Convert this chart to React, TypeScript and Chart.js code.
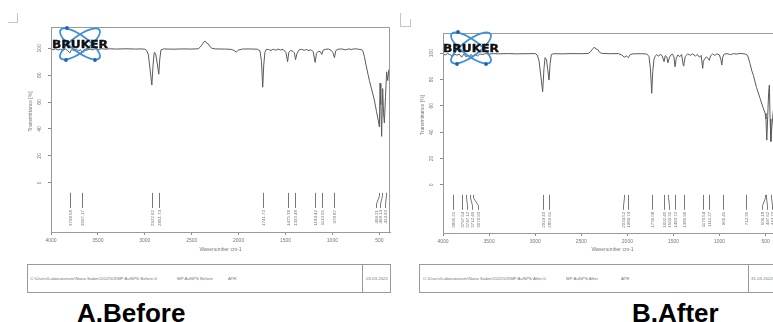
import React, { useEffect, useRef } from "react";
import { Chart, registerables } from "chart.js";
Chart.register(...registerables);

// ---------- data ----------
const xTicks = [4000, 3500, 3000, 2500, 2000, 1500, 1000, 500];
const yTicks = [0, 20, 40, 60, 80, 100];

const beforeWn = [4000, 3975, 3950, 3925, 3900, 3870, 3845, 3820, 3798, 3780, 3755, 3730, 3705, 3685, 3667, 3645, 3620, 3590, 3560, 3530, 3500, 3460, 3420, 3380, 3300, 3200, 3100, 3040, 3000, 2980, 2962, 2945, 2925, 2912, 2900, 2885, 2868, 2851, 2840, 2828, 2800, 2700, 2600, 2500, 2430, 2410, 2390, 2370, 2355, 2340, 2325, 2305, 2285, 2250, 2150, 2080, 2050, 2025, 2000, 1960, 1900, 1800, 1772, 1756, 1743, 1732, 1720, 1705, 1680, 1655, 1630, 1605, 1580, 1555, 1525, 1495, 1478, 1465, 1445, 1420, 1405, 1393, 1378, 1355, 1330, 1300, 1275, 1250, 1228, 1205, 1184, 1170, 1150, 1130, 1113, 1098, 1070, 1040, 1012, 995, 978, 964, 940, 900, 860, 830, 800, 760, 725, 695, 677, 660, 640, 620, 606, 580, 553, 530, 510, 499, 492, 484, 475, 464, 455, 446, 434, 422, 410, 398, 386];
const beforeT = [99.4, 98.9, 99.6, 98.6, 99.3, 98.4, 99.5, 98.0, 96.6, 99.1, 98.3, 99.4, 98.1, 98.9, 96.9, 99.2, 98.5, 99.4, 98.8, 99.6, 99.0, 99.7, 99.3, 99.6, 99.4, 99.6, 99.4, 99.5, 99.3, 98.4, 95.0, 85.0, 72.6, 87.5, 96.8, 96.2, 89.0, 80.7, 92.0, 98.8, 99.5, 99.3, 99.5, 99.4, 99.6, 100.8, 102.6, 104.8, 105.2, 103.8, 103.4, 101.2, 100.0, 99.5, 99.4, 99.2, 98.4, 97.2, 98.7, 99.4, 99.5, 99.3, 98.0, 90.0, 71.0, 87.5, 96.8, 99.2, 99.0, 98.4, 99.3, 98.5, 99.4, 98.7, 99.2, 96.8, 90.0, 96.8, 98.4, 97.6, 96.5, 91.5, 96.0, 98.8, 99.2, 98.5, 99.1, 98.2, 99.0, 97.4, 89.5, 96.2, 97.8, 97.6, 95.4, 98.6, 99.3, 99.4, 98.4, 96.8, 93.0, 98.2, 99.3, 99.5, 98.8, 99.5, 99.1, 99.6, 99.3, 99.0, 98.2, 94.0, 87.0, 80.5, 76.0, 69.0, 61.5, 53.0, 46.0, 41.5, 74.0, 58.0, 34.5, 70.0, 52.0, 44.5, 64.0, 82.5, 76.0, 84.0, 80.0];

const afterWn = [4000, 3975, 3950, 3925, 3895, 3875, 3850, 3825, 3797, 3775, 3747, 3730, 3712, 3695, 3677, 3655, 3624, 3600, 3570, 3540, 3500, 3450, 3400, 3300, 3200, 3100, 3000, 2978, 2958, 2938, 2919, 2905, 2893, 2878, 2864, 2850, 2838, 2825, 2800, 2700, 2600, 2500, 2425, 2400, 2378, 2358, 2342, 2322, 2302, 2280, 2200, 2100, 2060, 2034, 2012, 1990, 1970, 1940, 1850, 1790, 1766, 1750, 1736, 1725, 1712, 1700, 1680, 1660, 1645, 1625, 1602, 1590, 1572, 1560, 1545, 1530, 1510, 1495, 1483, 1470, 1452, 1432, 1412, 1393, 1386, 1372, 1345, 1315, 1292, 1262, 1242, 1218, 1200, 1183, 1176, 1162, 1142, 1125, 1111, 1098, 1075, 1052, 1030, 1002, 986, 976, 965, 950, 920, 880, 850, 820, 780, 745, 725, 705, 690, 670, 650, 633, 600, 561, 530, 506, 497, 488, 478, 468, 460, 452, 444, 432, 419, 405, 390, 370, 350, 330];
const afterT = [99.2, 98.6, 99.5, 98.9, 97.2, 99.1, 98.4, 99.2, 96.8, 99.3, 97.0, 98.4, 97.4, 99.0, 97.3, 99.1, 97.8, 99.3, 98.9, 99.5, 99.2, 99.6, 99.4, 99.6, 99.4, 99.5, 99.6, 98.5, 94.0, 82.0, 70.7, 88.0, 96.5, 95.2, 87.5, 79.5, 92.0, 98.9, 99.5, 99.4, 99.6, 99.5, 99.7, 101.0, 103.0, 104.5, 103.0, 102.8, 100.6, 99.8, 99.5, 99.6, 98.6, 96.8, 97.8, 96.5, 98.8, 99.4, 99.5, 99.3, 97.5, 88.0, 69.5, 86.0, 95.0, 97.5, 98.8, 97.6, 99.0, 98.2, 93.5, 98.0, 97.0, 92.6, 96.4, 98.5, 99.2, 97.0, 89.6, 96.0, 98.6, 97.2, 98.9, 90.4, 92.0, 97.5, 99.3, 98.3, 99.5, 97.6, 99.0, 96.8, 98.2, 88.4, 93.8, 95.5, 97.2, 95.8, 94.5, 98.0, 99.3, 98.2, 99.4, 98.6, 95.0, 90.9, 97.0, 99.2, 99.5, 98.8, 99.6, 99.2, 99.7, 99.5, 99.3, 98.8, 97.0, 92.0, 86.5, 83.0, 74.0, 65.7, 59.0, 54.3, 50.0, 34.0, 52.0, 70.0, 75.8, 50.0, 33.0, 45.0, 55.0, 62.0, 60.0, 63.0, 61.0, 62.0];

const beforePeaks = [3798.58, 3667.17, 2922.62, 2851.74, 1741.73, 1475.38, 1393.48, 1184.42, 1113.55, 978.87, 499.21, 468.14, 424.93];
const beforeLabelAt = [3798.58, 3667.17, 2922.62, 2851.74, 1741.73, 1475.38, 1393.48, 1184.42, 1113.55, 978.87, 534, 489, 439];

const afterPeaks = [3895.21, 3797.64, 3747.12, 3712.4, 3676.93, 2919.43, 2850.61, 2034.52, 1989.74, 1736.08, 1602.45, 1560.31, 1483.72, 1385.96, 1176.54, 1111.27, 965.41, 712.35, 506.18, 497.62, 444.7];
const afterLabelAt = [3895.21, 3797.64, 3736, 3682, 3624, 2919.43, 2850.61, 2050, 1989.74, 1736.08, 1602.45, 1545, 1483.72, 1385.96, 1176.54, 1111.27, 965.41, 712.35, 542, 488, 434];

const FONT = '"Liberation Sans", Arial, sans-serif';

type SpecProps = {
  left: number; width: number; height: number; padTop: number;
  yWidth: number; xHeight: number; xMin: number; yMin: number; yMax: number;
  wn: number[]; t: number[]; peaks: number[]; labelAt: number[];
};

function Spectrum(p: SpecProps) {
  const ref = useRef<HTMLCanvasElement | null>(null);
  useEffect(() => {
    const deco = {
      id: "deco",
      afterDraw(chart: any) {
        const { ctx, chartArea: a } = chart;
        const x = chart.scales.x, y = chart.scales.y;
        ctx.save();
        ctx.strokeStyle = "#9a9a9a";
        ctx.lineWidth = 1;
        ctx.beginPath();
        ctx.moveTo(a.left + 0.5, a.bottom);
        ctx.lineTo(a.left + 0.5, a.top + 0.5);
        ctx.lineTo(a.right - 0.5, a.top + 0.5);
        ctx.lineTo(a.right - 0.5, a.bottom);
        ctx.stroke();
        // y tick labels (rotated)
        ctx.fillStyle = "#7a7a7a";
        ctx.font = `5px ${FONT}`;
        ctx.textAlign = "center";
        ctx.textBaseline = "middle";
        for (const v of yTicks) {
          const py = y.getPixelForValue(v);
          ctx.save();
          ctx.translate(a.left - 11, py);
          ctx.rotate(-Math.PI / 2);
          ctx.fillText(String(v), 0, 0);
          ctx.restore();
        }
        ctx.save();
        ctx.translate(a.left - 20, y.getPixelForValue(53));
        ctx.rotate(-Math.PI / 2);
        ctx.fillText("Transmittance [%]", 0, 0);
        ctx.restore();
        // peak markers
        const yTop = y.getPixelForValue(-7.5);
        const yBot = y.getPixelForValue(-18.8);
        ctx.strokeStyle = "#555";
        ctx.lineWidth = 0.8;
        ctx.font = `4.4px ${FONT}`;
        ctx.fillStyle = "#777";
        p.peaks.forEach((pk, i) => {
          const px = Math.round(x.getPixelForValue(pk)) + 0.5;
          const lx = Math.round(x.getPixelForValue(p.labelAt[i])) + 0.5;
          ctx.beginPath();
          ctx.moveTo(px, yTop);
          if (px !== lx) {
            ctx.lineTo(px, yTop + 3);
            ctx.lineTo(lx, yBot - 4);
          }
          ctx.lineTo(lx, yBot);
          ctx.stroke();
          ctx.save();
          ctx.translate(lx, yBot + 2);
          ctx.rotate(-Math.PI / 2);
          ctx.textAlign = "right";
          ctx.textBaseline = "middle";
          ctx.fillText(pk.toFixed(2), 0, 0);
          ctx.restore();
        });
        ctx.restore();
      },
    };
    const chart = new Chart(ref.current as HTMLCanvasElement, {
      type: "line",
      data: {
        datasets: [
          {
            data: p.wn.map((v, i) => ({ x: v, y: p.t[i] })),
            borderColor: "#5a5a5a",
            borderWidth: 1,
            pointRadius: 0,
            tension: 0,
            fill: false,
          },
        ],
      },
      options: {
        animation: false,
        responsive: false,
        devicePixelRatio: 1,
        layout: { padding: { top: p.padTop, right: 1, left: 0, bottom: 0 } },
        plugins: { legend: { display: false }, tooltip: { enabled: false } },
        scales: {
          x: {
            type: "linear",
            reverse: true,
            min: p.xMin,
            max: 4000,
            afterBuildTicks: (s: any) => {
              s.ticks = xTicks.map((v) => ({ value: v }));
            },
            afterFit: (s: any) => {
              s.height = p.xHeight;
            },
            grid: { drawOnChartArea: false, drawTicks: true, tickLength: 3, color: "#8a8a8a" },
            border: { color: "#9a9a9a" },
            ticks: {
              font: { size: 5, family: FONT },
              color: "#777",
              padding: 3,
              maxRotation: 0,
              autoSkip: false,
              callback: (v: any) => String(v),
            },
            title: { display: true, text: "Wavenumber cm-1", font: { size: 5, family: FONT }, color: "#777", padding: { top: 0, bottom: 9 } },
          },
          y: {
            min: p.yMin,
            max: p.yMax,
            afterBuildTicks: (s: any) => {
              s.ticks = yTicks.map((v) => ({ value: v }));
            },
            afterFit: (s: any) => {
              s.width = p.yWidth;
            },
            grid: { drawOnChartArea: false, drawTicks: true, tickLength: 3, color: "#8a8a8a" },
            border: { color: "#9a9a9a" },
            ticks: { display: false },
          },
        },
      } as any,
      plugins: [deco],
    });
    return () => chart.destroy();
  }, []);
  return (
    <canvas
      ref={ref}
      width={p.width}
      height={p.height}
      style={{ position: "absolute", left: p.left, top: 0, width: p.width, height: p.height }}
    />
  );
}

function Logo({ left, top }: { left: number; top: number }) {
  return (
    <svg width={60} height={40} style={{ position: "absolute", left, top, overflow: "visible" }}>
      <g fill="none" stroke="#3d8fd9" strokeWidth={1.8}>
        <ellipse cx={29} cy={20} rx={24} ry={8} transform="rotate(36 29 20)" />
        <ellipse cx={29} cy={20} rx={24} ry={8} transform="rotate(-36 29 20)" />
      </g>
      <circle cx={16} cy={4} r={1.9} fill="#1f63b0" />
      <circle cx={44} cy={36} r={1.9} fill="#1f63b0" />
      <circle cx={15} cy={36} r={1.9} fill="#1f63b0" />
      <text x={1} y={23.5} textLength={56} lengthAdjust="spacingAndGlyphs" fontFamily='"DejaVu Sans", sans-serif' fontWeight="bold" fontSize={10} fill="#111" stroke="#111" strokeWidth={0.35}>
        BRUKER
      </text>
    </svg>
  );
}

const tiny: React.CSSProperties = { position: "absolute", top: 11, fontSize: 4.4, color: "#777", fontFamily: FONT, whiteSpace: "nowrap", lineHeight: "6px" };

export default function App() {
  return (
    <div style={{ position: "absolute", left: 0, top: 0, width: 773, height: 322, overflow: "hidden", background: "#fff" }}>
      {/* corner marks */}
      <div style={{ position: "absolute", left: 8, top: 13, width: 9, height: 9, borderRight: "1px solid #c4c4c4", borderBottom: "1px solid #c4c4c4" }} />
      <div style={{ position: "absolute", left: 400, top: 13, width: 10, height: 13, borderLeft: "1px solid #c4c4c4", borderBottom: "1px solid #c4c4c4" }} />
      <div style={{ position: "absolute", left: 410, top: 19, width: 0, height: 8, borderLeft: "1px solid #c4c4c4" }} />

      <Spectrum left={0} width={391} height={262} padTop={27} yWidth={51} xHeight={30} xMin={386} yMin={-36.6} yMax={115.8}
        wn={beforeWn} t={beforeT} peaks={beforePeaks} labelAt={beforeLabelAt} />
      <Spectrum left={391} width={392} height={262} padTop={33} yWidth={52} xHeight={29} xMin={323} yMin={-36.4} yMax={115.2}
        wn={afterWn} t={afterT} peaks={afterPeaks} labelAt={afterLabelAt} />

      <Logo left={51} top={24} />
      <Logo left={442} top={28} />

      {/* footers */}
      <div style={{ position: "absolute", left: 27, top: 264, width: 362, height: 27, border: "1px solid #9a9a9a" }}>
        <div style={{ position: "absolute", left: 334, top: 0, width: 0, height: 27, borderLeft: "1px solid #9a9a9a" }} />
        <span style={{ ...tiny, left: 2 }}>C:\Users\Laboratorium\Nano Saber\2022\03\MP AuNPS Before.0</span>
        <span style={{ ...tiny, left: 149 }}>MP AuNPS Before</span>
        <span style={{ ...tiny, left: 200 }}>ATR</span>
        <span style={{ ...tiny, left: 338 }}>03.03.2022</span>
      </div>
      <div style={{ position: "absolute", left: 419, top: 264, width: 380, height: 27, border: "1px solid #9a9a9a" }}>
        <div style={{ position: "absolute", left: 328, top: 0, width: 0, height: 27, borderLeft: "1px solid #9a9a9a" }} />
        <span style={{ ...tiny, left: 3 }}>C:\Users\Laboratorium\Nano Saber\2022\03\MP AuNPS After.0</span>
        <span style={{ ...tiny, left: 146 }}>MP AuNPS After</span>
        <span style={{ ...tiny, left: 201 }}>ATR</span>
        <span style={{ ...tiny, left: 331 }}>31.03.2022</span>
      </div>

      <div style={{ position: "absolute", left: 77, top: 299.6, fontFamily: FONT, fontWeight: "bold", fontSize: 26, lineHeight: "26px", color: "#000", whiteSpace: "nowrap" }}>A.Before</div>
      <div style={{ position: "absolute", left: 632, top: 299.6, fontFamily: FONT, fontWeight: "bold", fontSize: 26, lineHeight: "26px", color: "#000", whiteSpace: "nowrap" }}>B.After</div>
    </div>
  );
}
